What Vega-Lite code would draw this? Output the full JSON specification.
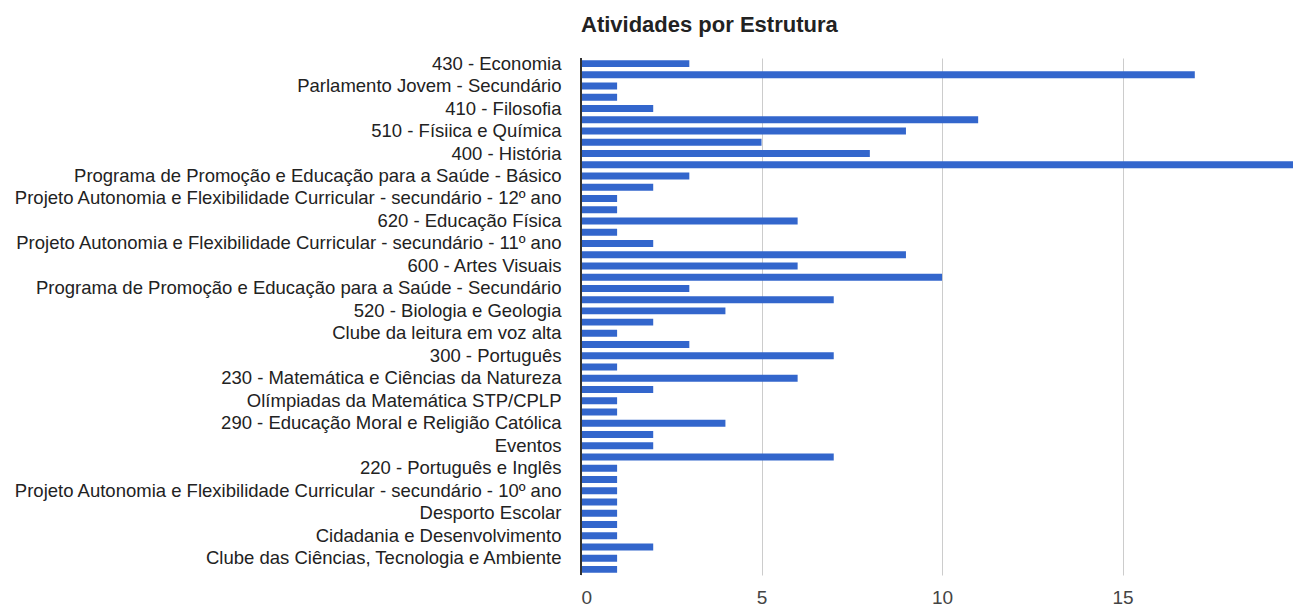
{
  "$schema": "https://vega.github.io/schema/vega-lite/v6.json",
  "autosize": {"type": "none"},
  "padding": {"left": 581, "top": 58, "right": 0, "bottom": 32},
  "width": 712,
  "height": 517,
  "background": "white",
  "title": {
    "text": "Atividades por Estrutura",
    "anchor": "start",
    "frame": "group",
    "font": "Liberation Sans",
    "fontSize": 22,
    "fontWeight": "bold",
    "color": "#222222",
    "offset": 17
  },
  "config": {
    "view": {"stroke": null},
    "font": "Liberation Sans"
  },
  "data": {
    "values": [
      {"estrutura": "430 - Economia", "atividades": 3},
      {"estrutura": "500 - Matemática", "atividades": 17},
      {"estrutura": "Parlamento Jovem - Secundário", "atividades": 1},
      {"estrutura": "Parlamento Jovem - Básico", "atividades": 1},
      {"estrutura": "410 - Filosofia", "atividades": 2},
      {"estrutura": "420 - Geografia", "atividades": 11},
      {"estrutura": "510 - Físiica e Química", "atividades": 9},
      {"estrutura": "330 - Inglês", "atividades": 5},
      {"estrutura": "400 - História", "atividades": 8},
      {"estrutura": "Biblioteca Escolar", "atividades": 20},
      {"estrutura": "Programa de Promoção e Educação para a Saúde - Básico", "atividades": 3},
      {"estrutura": "Projeto Autonomia e Flexibilidade Curricular - básico", "atividades": 2},
      {"estrutura": "Projeto Autonomia e Flexibilidade Curricular - secundário - 12º ano", "atividades": 1},
      {"estrutura": "Clube de Robótica", "atividades": 1},
      {"estrutura": "620 - Educação Física", "atividades": 6},
      {"estrutura": "Clube de Teatro", "atividades": 1},
      {"estrutura": "Projeto Autonomia e Flexibilidade Curricular - secundário - 11º ano", "atividades": 2},
      {"estrutura": "550 - Informática", "atividades": 9},
      {"estrutura": "600 - Artes Visuais", "atividades": 6},
      {"estrutura": "910 - Educação Especial", "atividades": 10},
      {"estrutura": "Programa de Promoção e Educação para a Saúde - Secundário", "atividades": 3},
      {"estrutura": "250 - Educação Musical", "atividades": 7},
      {"estrutura": "520 - Biologia e Geologia", "atividades": 4},
      {"estrutura": "320 - Francês", "atividades": 2},
      {"estrutura": "Clube da leitura em voz alta", "atividades": 1},
      {"estrutura": "350 - Espanhol", "atividades": 3},
      {"estrutura": "300 - Português", "atividades": 7},
      {"estrutura": "Eco-Escolas", "atividades": 1},
      {"estrutura": "230 - Matemática e Ciências da Natureza", "atividades": 6},
      {"estrutura": "240 - Educação Visual e Tecnológica", "atividades": 2},
      {"estrutura": "Olímpiadas da Matemática STP/CPLP", "atividades": 1},
      {"estrutura": "Olimpíadas da Matemática", "atividades": 1},
      {"estrutura": "290 - Educação Moral e Religião Católica", "atividades": 4},
      {"estrutura": "200 - Português e Estudos Sociais/História", "atividades": 2},
      {"estrutura": "Eventos", "atividades": 2},
      {"estrutura": "110 - 1.º Ciclo", "atividades": 7},
      {"estrutura": "220 - Português e Inglês", "atividades": 1},
      {"estrutura": "Clube de Xadrez", "atividades": 1},
      {"estrutura": "Projeto Autonomia e Flexibilidade Curricular - secundário - 10º ano", "atividades": 1},
      {"estrutura": "Clube de Jornalismo", "atividades": 1},
      {"estrutura": "Desporto Escolar", "atividades": 1},
      {"estrutura": "Erasmus+", "atividades": 1},
      {"estrutura": "Cidadania e Desenvolvimento", "atividades": 1},
      {"estrutura": "Direção", "atividades": 2},
      {"estrutura": "Clube das Ciências, Tecnologia e Ambiente", "atividades": 1},
      {"estrutura": "Associação de Estudantes", "atividades": 1}
    ]
  },
  "layer": [
    {
      "mark": {"type": "bar", "color": "#3366cc", "clip": true},
      "encoding": {
        "y": {
          "field": "estrutura",
          "type": "nominal",
          "sort": null,
          "scale": {"paddingInner": 0.38, "paddingOuter": 0.19},
          "axis": {
            "title": null,
            "ticks": false,
            "domain": false,
            "grid": false,
            "labelPadding": 20,
            "labelLimit": 0,
            "labelFont": "Liberation Sans",
            "labelFontSize": 18.5,
            "labelColor": "#222222",
            "labelExpr": "round(datum.index * 45) % 2 == 0 ? datum.label : ''"
          }
        },
        "x": {
          "field": "atividades",
          "type": "quantitative",
          "scale": {"domain": [0, 19.72], "nice": false},
          "axis": {
            "title": null,
            "values": [0, 5, 10, 15],
            "ticks": false,
            "domain": false,
            "grid": true,
            "gridColor": "#cccccc",
            "gridWidth": 1,
            "labelPadding": 13,
            "labelFont": "Liberation Sans",
            "labelFontSize": 19,
            "labelColor": "#444444"
          }
        }
      }
    },
    {
      "mark": {"type": "rule", "color": "#333333", "strokeWidth": 1.5},
      "encoding": {"x": {"datum": 0, "type": "quantitative"}}
    }
  ]
}
